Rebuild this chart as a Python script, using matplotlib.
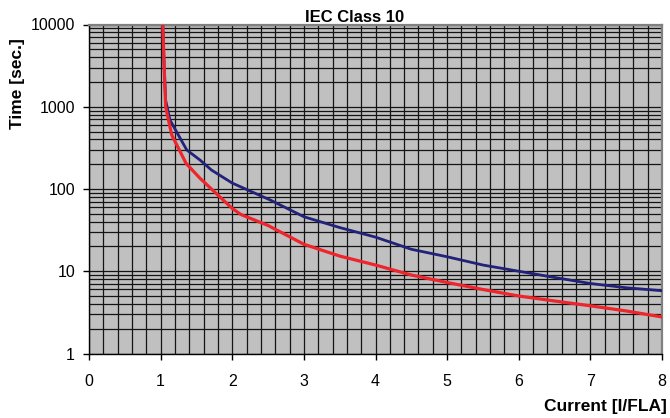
import matplotlib
matplotlib.use("Agg")
import matplotlib.pyplot as plt
from matplotlib.ticker import FixedLocator, FixedFormatter, MultipleLocator, LogLocator, NullFormatter

plt.rcParams['font.family'] = ['Liberation Sans', 'DejaVu Sans']

title = "IEC Class 10"
x_label = "Current [I/FLA]"
y_label = "Time [sec.]"

# Trip curve, upper limit (blue)
upper_x = [1.03, 1.05, 1.07, 1.13, 1.365, 1.55, 1.71, 2.0, 2.53, 3.0, 3.5, 4.0, 4.5,
           5.0, 5.5, 6.0, 6.5, 7.0, 7.5, 8.0]
upper_t = [10000, 3000, 1200, 690, 298, 225, 170, 118, 73.5, 46, 34, 26, 18.5,
           15, 11.9, 10, 8.4, 7.1, 6.3, 5.8]

# Trip curve, lower limit (red)
lower_x = [1.03, 1.05, 1.07, 1.155, 1.355, 1.55, 2.0, 2.12, 2.5, 3.0, 3.5, 4.0, 4.5,
           5.0, 5.5, 6.0, 6.5, 7.0, 7.5, 8.0]
lower_t = [10000, 3000, 1000, 454, 205, 135, 58, 49, 36, 21.3, 15.3, 11.9, 9.0,
           7.3, 6.0, 5.0, 4.35, 3.8, 3.29, 2.78]

x_ticks = [0, 1, 2, 3, 4, 5, 6, 7, 8]
y_ticks = [1, 10, 100, 1000, 10000]
y_tick_labels = ["1", "10", "100", "1000", "10000"]

fig = plt.figure(figsize=(6.7, 4.18), dpi=100)
fig.patch.set_facecolor("white")
ax = fig.add_axes([89 / 670, 1 - 353.5 / 418, (662 - 89) / 670, (353.5 - 24.5) / 418])
ax.set_facecolor("#c0c0c0")
ax.set_yscale("log")
ax.set_xlim(0, 8)
ax.set_ylim(1, 10000)

ax.xaxis.set_major_locator(FixedLocator(x_ticks))
ax.xaxis.set_minor_locator(MultipleLocator(0.2))
ax.yaxis.set_major_locator(FixedLocator(y_ticks))
ax.yaxis.set_major_formatter(FixedFormatter(y_tick_labels))
ax.yaxis.set_minor_locator(LogLocator(base=10, subs=range(2, 10)))
ax.yaxis.set_minor_formatter(NullFormatter())

ax.grid(True, which="both", color="#141414", linewidth=0.9)
ax.set_axisbelow(True)

ax.plot(upper_x, upper_t, color="#22227a", linewidth=2.0, solid_joinstyle="round", zorder=3)
ax.plot(lower_x, lower_t, color="#f0242c", linewidth=2.3, solid_joinstyle="round", zorder=4)

ax.tick_params(axis="both", which="major", direction="out", length=4, width=1,
               color="black", labelsize=11.5)
ax.tick_params(axis="x", which="major", pad=11)
ax.tick_params(axis="y", which="major", pad=6)
ax.tick_params(which="minor", length=0)

for side in ("left", "bottom"):
    ax.spines[side].set_color("black")
    ax.spines[side].set_linewidth(1.0)
for side in ("top", "right"):
    ax.spines[side].set_color("#808080")
    ax.spines[side].set_linewidth(1.6)

fig.text(355 / 670, 1 - 17 / 418, title, ha="center", va="center",
         fontsize=12, fontweight="bold")
fig.text(667 / 670, 1 - 407 / 418, x_label, ha="right", va="center",
         fontsize=12.5, fontweight="bold")
fig.text(18 / 670, 1 - 83.5 / 418, y_label, ha="center", va="center",
         rotation=90, fontsize=12.5, fontweight="bold")

fig.savefig("out.png", dpi=100)
